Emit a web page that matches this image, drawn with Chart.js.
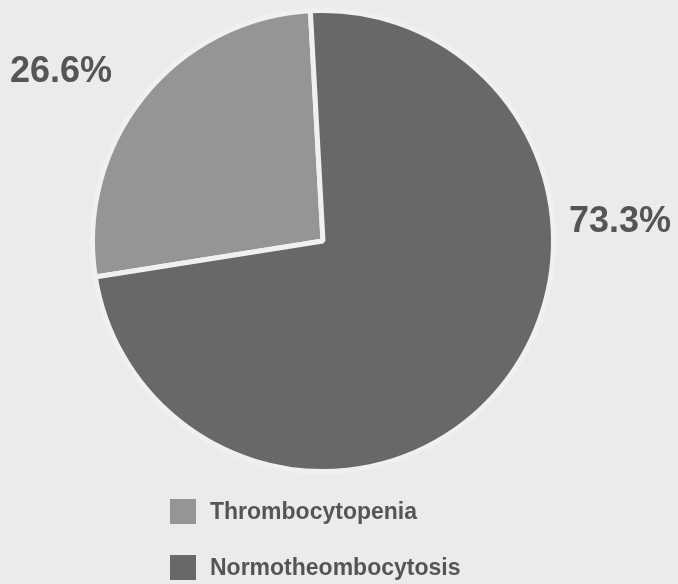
<!DOCTYPE html>
<html>
<head>
<meta charset="utf-8">
<script src="https://cdn.jsdelivr.net/npm/chart.js@4/dist/chart.umd.min.js"></script>
<style>
  html, body { margin: 0; padding: 0; background: #ebebeb; }
  #wrap { position: relative; width: 678px; height: 584px; }
  canvas { display: block; }
</style>
</head>
<body>
<div id="wrap"><canvas id="c" width="678" height="584"></canvas></div>
<script>
const categories = ["Thrombocytopenia", "Normotheombocytosis"];
const values = [26.6, 73.3];
const valueLabels = ["26.6%", "73.3%"];
const colors = ["#959595", "#686868"];

const labelPositions = [[61, 72], [620, 222]];

const overlayPlugin = {
  id: 'overlay',
  afterDraw(chart) {
    const ctx = chart.ctx;
    ctx.save();
    // percentage labels
    ctx.font = 'bold 36px "Liberation Sans", Arial, sans-serif';
    ctx.fillStyle = '#555555';
    ctx.textAlign = 'center';
    ctx.textBaseline = 'middle';
    valueLabels.forEach((t, i) => {
      ctx.fillText(t, labelPositions[i][0], labelPositions[i][1]);
    });
    // legend
    ctx.font = 'bold 23px "Liberation Sans", Arial, sans-serif';
    ctx.textAlign = 'left';
    categories.forEach((name, i) => {
      const y = 512 + i * 56;
      ctx.fillStyle = colors[i];
      ctx.fillRect(170, y - 13, 26, 25);
      ctx.fillStyle = '#555555';
      ctx.fillText(name, 210, y + 1);
    });
    ctx.restore();
  }
};

new Chart(document.getElementById('c'), {
  type: 'pie',
  data: {
    labels: categories,
    datasets: [{
      data: values,
      backgroundColor: colors,
      borderColor: '#f0f0f0',
      borderWidth: 5
    }]
  },
  options: {
    responsive: false,
    animation: false,
    rotation: 261,
    layout: { padding: { left: 88, right: 120, top: 8, bottom: 110 } },
    plugins: {
      legend: { display: false },
      tooltip: { enabled: false }
    }
  },
  plugins: [overlayPlugin]
});
</script>
</body>
</html>
